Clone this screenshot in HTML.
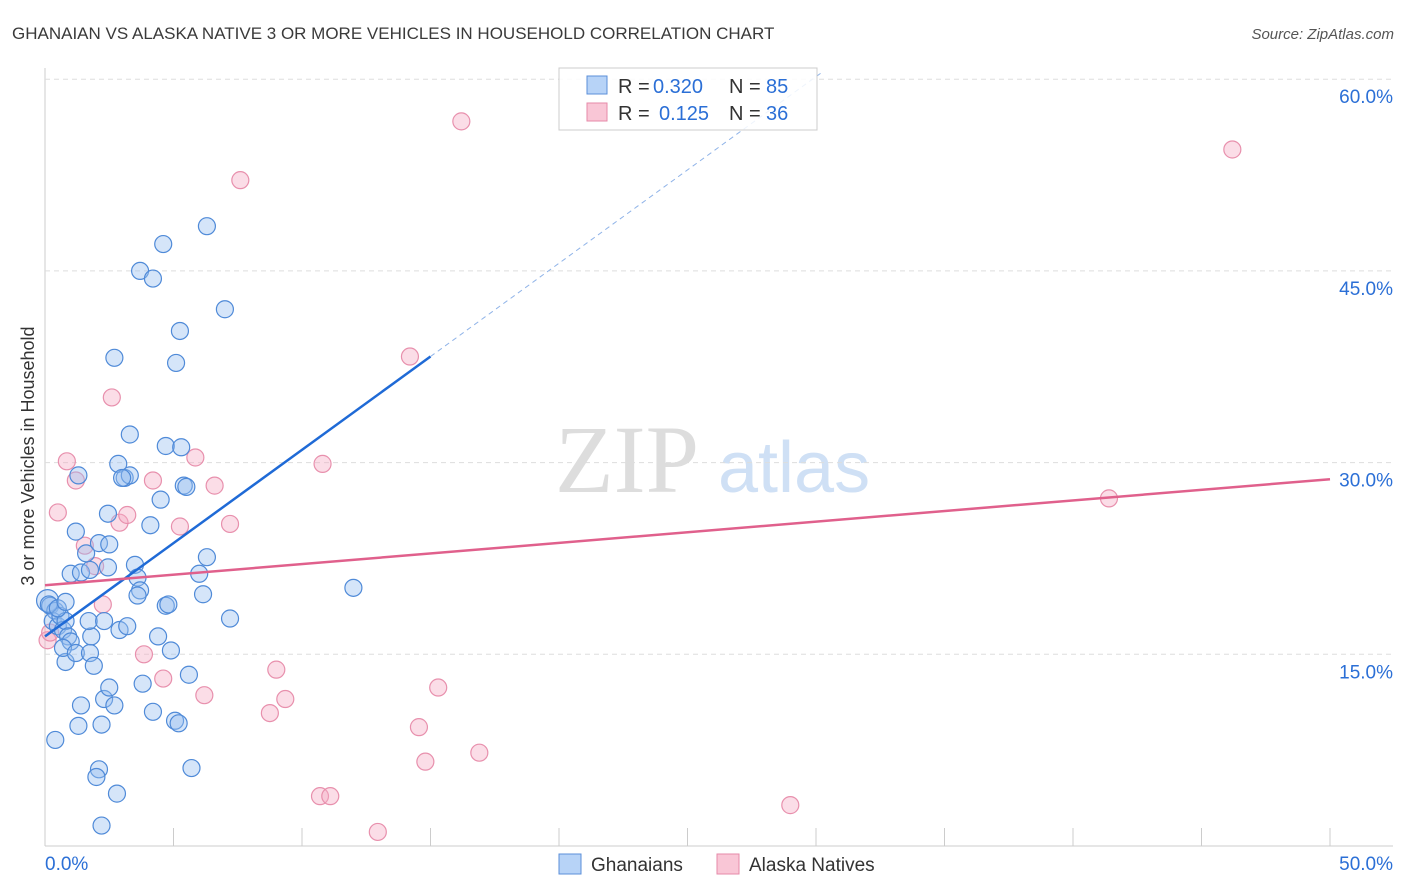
<!DOCTYPE html>
<html><head><meta charset="utf-8"><style>
body{margin:0;background:#fff;font-family:"Liberation Sans",sans-serif;}
#c{position:absolute;left:0;top:0;}
</style></head><body>
<svg id="c" width="1406" height="892" font-family="Liberation Sans, sans-serif">
<text x="12" y="39" font-size="17" fill="#3a3a3a">GHANAIAN VS ALASKA NATIVE 3 OR MORE VEHICLES IN HOUSEHOLD CORRELATION CHART</text>
<text x="1394" y="39" font-size="15" fill="#555" font-style="italic" text-anchor="end">Source: ZipAtlas.com</text>
<text x="34" y="456" font-size="18" fill="#333" text-anchor="middle" transform="rotate(-90 34 456)">3 or more Vehicles in Household</text>
<text x="555" y="492" font-size="96" fill="#ddd" font-family="Liberation Serif, serif">ZIP</text>
<text x="718" y="492" font-size="72" fill="#cfe0f5">atlas</text>
<g id="grid"></g><g id="pts"></g><g id="lines"></g>
<g>
<rect x="559" y="68" width="258" height="62" fill="rgba(255,255,255,0.85)" stroke="#ccc"/>
<rect x="587" y="76" width="20" height="18" fill="#b7d3f7" stroke="#5b8fd9"/>
<rect x="587" y="103" width="20" height="18" fill="#f9c6d6" stroke="#e68aa8"/>
<text x="618" y="93" font-size="20" fill="#333">R =</text>
<text x="653" y="93" font-size="20" fill="#2b6fd6">0.320</text>
<text x="729" y="93" font-size="20" fill="#333">N =</text>
<text x="766" y="93" font-size="20" fill="#2b6fd6">85</text>
<text x="618" y="120" font-size="20" fill="#333">R =</text>
<text x="659" y="120" font-size="20" fill="#2b6fd6">0.125</text>
<text x="729" y="120" font-size="20" fill="#333">N =</text>
<text x="766" y="120" font-size="20" fill="#2b6fd6">36</text>
</g>
<g>
<rect x="559" y="854" width="22" height="20" fill="#b7d3f7" stroke="#5b8fd9"/>
<text x="591" y="871" font-size="19" fill="#333">Ghanaians</text>
<rect x="717" y="854" width="22" height="20" fill="#f9c6d6" stroke="#e68aa8"/>
<text x="749" y="871" font-size="19" fill="#333">Alaska Natives</text>
</g>
</svg>
<script>
const xTicks=[0,5,10,15,20,25,30,35,40,45,50];
const yTicks=[15,30,45,60];
const yTickLabels=["15.0%","30.0%","45.0%","60.0%"];
const blueX=[0.1,0.2,0.4,0.3,0.5,0.6,0.7,0.8,0.9,1.0,0.4,0.8,0.7,1.2,1.3,1.4,1.75,1.8,1.9,2.1,2.0,2.2,2.3,2.5,2.7,2.8,2.2,1.7,2.3,2.9,3.2,1.0,1.4,1.6,1.75,2.1,2.45,2.5,2.45,1.2,1.3,2.85,3.1,3.3,3.3,3.0,3.5,3.6,3.7,3.6,4.1,4.5,4.7,5.3,5.4,5.5,4.4,4.9,4.7,4.8,3.8,4.2,5.06,5.2,5.6,5.7,6.0,6.15,6.3,7.2,2.7,3.7,4.2,4.6,5.1,5.25,6.3,7.0,12.0,0.15,0.5,0.8];
const blueY=[19.2,18.8,18.4,17.6,17.2,18.0,16.9,17.6,16.4,16.0,8.3,14.4,15.5,15.1,9.4,11.0,15.1,16.4,14.1,6.0,5.4,9.5,11.5,12.4,11.0,4.1,1.6,17.6,17.6,16.9,17.2,21.3,21.4,22.9,21.6,23.7,21.8,23.6,26.0,24.6,29.0,29.9,28.8,29.0,32.2,28.8,22.0,21.0,20.0,19.6,25.1,27.1,31.3,31.2,28.2,28.1,16.4,15.3,18.8,18.9,12.7,10.5,9.8,9.6,13.4,6.1,21.3,19.7,22.6,17.8,38.2,45.0,44.4,47.1,37.8,40.3,48.5,42.0,20.2,18.9,18.6,19.1];
const pinkX=[0.1,0.2,0.5,0.85,1.2,1.55,1.95,2.25,2.6,2.9,3.2,4.2,3.85,4.6,5.25,5.85,6.2,6.6,7.2,7.6,8.75,9.0,9.35,10.8,10.7,11.1,12.95,14.2,14.55,14.8,15.3,16.2,16.9,29.0,41.4,46.2];
const pinkY=[16.1,16.7,26.1,30.1,28.6,23.5,21.9,18.9,35.1,25.3,25.9,28.6,15.0,13.1,25.0,30.4,11.8,28.2,25.2,52.1,10.4,13.8,11.5,29.9,3.9,3.9,1.1,38.3,9.3,6.6,12.4,56.7,7.3,3.2,27.2,54.5];
const blueFit=[16.4,1.46], pinkFit=[20.4,0.166];
const X=v=>45+v*25.7, Y=v=>846-v*12.78, NS="http://www.w3.org/2000/svg";
function mk(p,t,a){const e=document.createElementNS(NS,t);for(const k in a)e.setAttribute(k,a[k]);p.appendChild(e);return e;}
const g=document.getElementById('grid');
mk(g,'line',{x1:45,y1:68,x2:45,y2:846,stroke:'#ccc'});
mk(g,'line',{x1:45,y1:846,x2:1393,y2:846,stroke:'#ccc'});
xTicks.forEach(t=>{const l=mk(g,'line',{x1:X(t),y1:846,x2:X(t),y2:828,stroke:'#ccc'});

});
yTicks.forEach((t,i)=>{const l=mk(g,'line',{x1:45,y1:Y(t),x2:1393,y2:Y(t),stroke:'#ddd','stroke-dasharray':'5,4'});


const tx=mk(g,'text',{x:1393,y:Y(t)+24,'font-size':19,fill:'#2b6fd6','text-anchor':'end'});tx.textContent=yTickLabels[i];

});
const x0=mk(g,'text',{x:45,y:870,'font-size':19,fill:'#2b6fd6'});x0.textContent='0.0%';


const x1=mk(g,'text',{x:1393,y:870,'font-size':19,fill:'#2b6fd6','text-anchor':'end'});x1.textContent='50.0%';


const pg=document.getElementById('pts');
pinkX.forEach((v,i)=>{const c=mk(pg,'circle',{cx:X(v),cy:Y(pinkY[i]),r:8.5,fill:'rgba(246,170,195,0.4)',stroke:'#e890ad','stroke-width':1.2});

});
blueX.forEach((v,i)=>{const c=mk(pg,'circle',{cx:X(v),cy:Y(blueY[i]),r:i==0?11:8.5,fill:'rgba(150,190,240,0.4)',stroke:'#4f8ad8','stroke-width':1.2});

});
const lg=document.getElementById('lines');
let l=mk(lg,'line',{x1:X(0),y1:Y(blueFit[0]),x2:X(15),y2:Y(blueFit[0]+15*blueFit[1]),stroke:'#1f6ad6','stroke-width':2.5});


l=mk(lg,'line',{x1:X(15),y1:Y(blueFit[0]+15*blueFit[1]),x2:X(30.2),y2:Y(blueFit[0]+30.2*blueFit[1]),stroke:'#8fb3e8','stroke-width':1,'stroke-dasharray':'5,4'});


l=mk(lg,'line',{x1:X(0),y1:Y(pinkFit[0]),x2:X(50),y2:Y(pinkFit[0]+50*pinkFit[1]),stroke:'#e0608c','stroke-width':2.5});


</script>
</body></html>
